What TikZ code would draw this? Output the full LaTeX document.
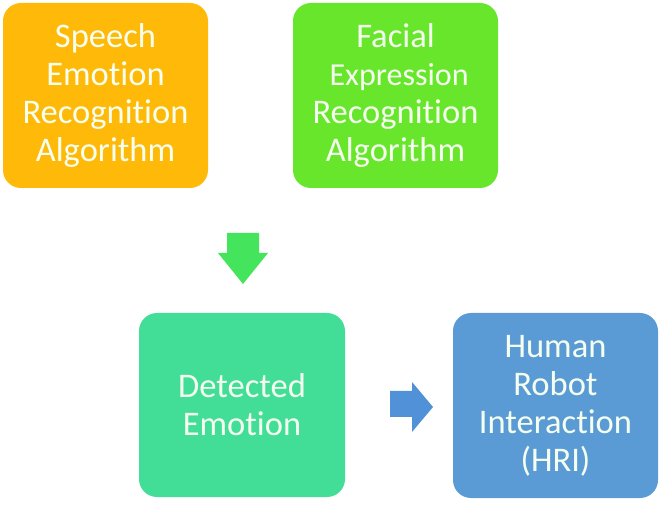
\documentclass[tikz,border=0pt]{standalone}
\usepackage{fontspec}
\setmainfont{Carlito}[Ligatures=NoCommon]
\definecolor{cOrange}{RGB}{255,185,8}
\definecolor{cGreen}{RGB}{104,230,44}
\definecolor{cTeal}{RGB}{66,222,152}
\definecolor{cBlue}{RGB}{91,155,213}
\definecolor{cArrowG}{RGB}{68,228,92}
\definecolor{cArrowB}{RGB}{80,145,215}
\definecolor{cText}{RGB}{245,255,240}
\begin{document}
\begin{tikzpicture}[x=1pt,y=-1pt,
  box/.style={rectangle, rounded corners=18pt, minimum width=205pt, minimum height=185pt,
    inner sep=0pt, align=center, text=cText,
    font=\fontsize{34.5}{38}\selectfont}]
\useasboundingbox (0,0) rectangle (665,505);
\node[box, fill=cOrange] (speech) at (105.5,95.5) {Speech\\Emotion\\Recognition\\Algorithm};
\node[box, fill=cGreen] (face) at (395.5,95.5) {Facial\\\fontsize{32}{38}\selectfont\ Expression\\Recognition\\Algorithm};
\node[box, minimum width=206pt, minimum height=184pt, fill=cTeal] (detected) at (242,405) {Detected\\Emotion};
\node[box, fill=cBlue] (hri) at (555.5,405.5) {Human\\Robot\\Interaction\\(HRI)};
% block arrows
\fill[cArrowG] (227,233) -- (259,233) -- (259,253) -- (268,253) -- (243,284) -- (218,253) -- (227,253) -- cycle;
\fill[cArrowB] (390,391) -- (412,391) -- (412,382) -- (433,407) -- (412,432) -- (412,417) -- (390,417) -- cycle;
\end{tikzpicture}
\end{document}
